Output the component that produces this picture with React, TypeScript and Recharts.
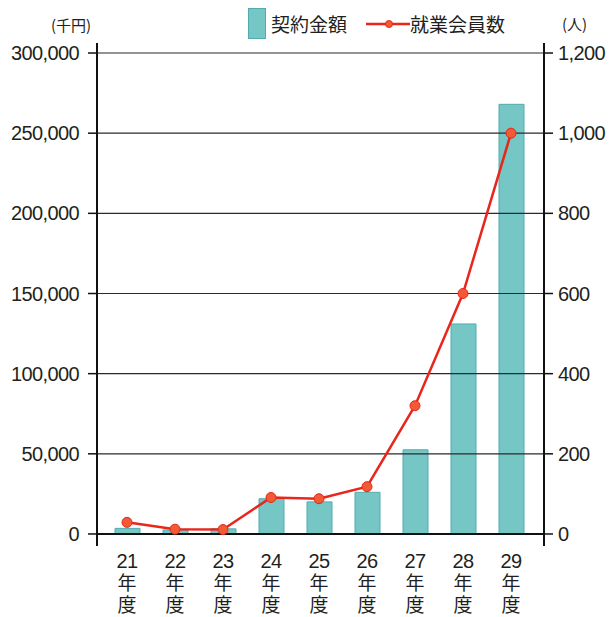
import React from "react";
import {
  ComposedChart,
  Bar,
  Line,
  XAxis,
  YAxis,
  ReferenceLine,
} from "recharts";

// fiscal years (平成)
const years = ["21", "22", "23", "24", "25", "26", "27", "28", "29"];
// 契約金額 (千円)
const contractAmount = [3500, 2500, 3200, 22000, 20000, 26000, 52500, 131000, 268000];
// 就業会員数 (人)
const members = [29, 12, 11, 91, 88, 118, 320, 600, 1000];

const leftTicks = [0, 50000, 100000, 150000, 200000, 250000, 300000];
const rightTicks = [0, 200, 400, 600, 800, 1000, 1200];

const data = years.map((y, i) => ({
  year: y,
  amount: contractAmount[i],
  members: members[i],
}));

const NUM_FONT = "'Liberation Sans', Arial, 'Noto Sans CJK JP', sans-serif";
const JP_FONT = "'Noto Sans CJK JP', 'Liberation Sans', sans-serif";
const TEXT = "#231f20";
const BAR_FILL = "#74c7c5";
const BAR_STROKE = "#52acad";
const LINE_RED = "#e8261c";
const DOT_FILL = "#f25a36";

const fmt = (v: number) => v.toLocaleString("en-US");

// year label: "21" on top, then 年度 written vertically
const YearTick = ({ x, y, payload }: any) => (
  <g>
    <text x={x} y={y + 22} textAnchor="middle" fontSize={20} fill={TEXT} fontFamily={NUM_FONT} letterSpacing={-0.6}>
      {payload.value}
    </text>
    <text
      x={x}
      y={y + 27}
      fontSize={19}
      fill={TEXT}
      fontFamily={JP_FONT}
      letterSpacing={3}
      style={{ writingMode: "vertical-rl", textOrientation: "upright" } as any}
    >
      年度
    </text>
  </g>
);

export default function App() {
  return (
    <div style={{ position: "absolute", left: 0, top: 0, width: 609, height: 617, background: "#fff" }}>
      {/* units + legend */}
      <div style={{ position: "absolute", left: 51, top: 14, fontSize: 15, fontFamily: JP_FONT, color: TEXT }}>
        (千円)
      </div>
      <div style={{ position: "absolute", left: 562, top: 13, fontSize: 15, fontFamily: JP_FONT, color: TEXT }}>
        (人)
      </div>
      <div style={{ position: "absolute", left: 248, top: 8, display: "flex", alignItems: "center", fontFamily: JP_FONT, fontSize: 19, color: TEXT }}>
        <div style={{ width: 16, height: 29, background: BAR_FILL, border: `1px solid ${BAR_STROKE}` }} />
        <span style={{ marginLeft: 5 }}>契約金額</span>
        <svg width={44} height={12} style={{ marginLeft: 19 }}>
          <line x1={0} y1={6} x2={44} y2={6} stroke={LINE_RED} strokeWidth={2.5} />
          <circle cx={23} cy={6} r={3.5} fill={DOT_FILL} stroke={LINE_RED} />
        </svg>
        <span>就業会員数</span>
      </div>

      <ComposedChart
        width={609}
        height={617}
        data={data}
        margin={{ top: 43, right: 0, bottom: 0, left: 0 }}
      >
        <XAxis
          dataKey="year"
          height={71}
          axisLine={false}
          tickLine={false}
          tickSize={0}
          tickMargin={0}
          padding={{ left: 6, right: 9 }}
          tick={<YearTick />}
          interval={0}
        />
        <YAxis
          yAxisId="left"
          width={97}
          domain={[-7500, 306250]}
          ticks={leftTicks}
          tickFormatter={fmt}
          axisLine={{ stroke: "#111", strokeWidth: 2 }}
          tickLine={{ stroke: "#111", strokeWidth: 1.5 }}
          tickSize={9}
          tickMargin={9}
          tick={{ fontSize: 20, fill: TEXT, fontFamily: NUM_FONT, letterSpacing: -0.6 }}
          interval={0}
        />
        <YAxis
          yAxisId="right"
          orientation="right"
          width={65}
          domain={[-30, 1225]}
          ticks={rightTicks}
          tickFormatter={fmt}
          axisLine={{ stroke: "#111", strokeWidth: 2 }}
          tickLine={{ stroke: "#111", strokeWidth: 1.5 }}
          tickSize={9}
          tickMargin={5}
          tick={{ fontSize: 20, fill: TEXT, fontFamily: NUM_FONT, letterSpacing: -0.6 }}
          interval={0}
        />
        {/* horizontal grid at each left tick */}
        {leftTicks.map((t) => (
          <ReferenceLine
            key={t}
            yAxisId="left"
            y={t}
            stroke={t === 0 ? "#111" : "#2a2a2a"}
            strokeWidth={t === 0 ? 2 : 1.2}
          />
        ))}
        <Bar
          yAxisId="left"
          dataKey="amount"
          barSize={25}
          fill={BAR_FILL}
          stroke={BAR_STROKE}
          strokeWidth={1}
          isAnimationActive={false}
        />
        <Line
          yAxisId="right"
          dataKey="members"
          type="linear"
          stroke={LINE_RED}
          strokeWidth={2.5}
          dot={{ r: 5, fill: DOT_FILL, stroke: LINE_RED, strokeWidth: 1 }}
          activeDot={false}
          isAnimationActive={false}
        />
      </ComposedChart>
    </div>
  );
}
